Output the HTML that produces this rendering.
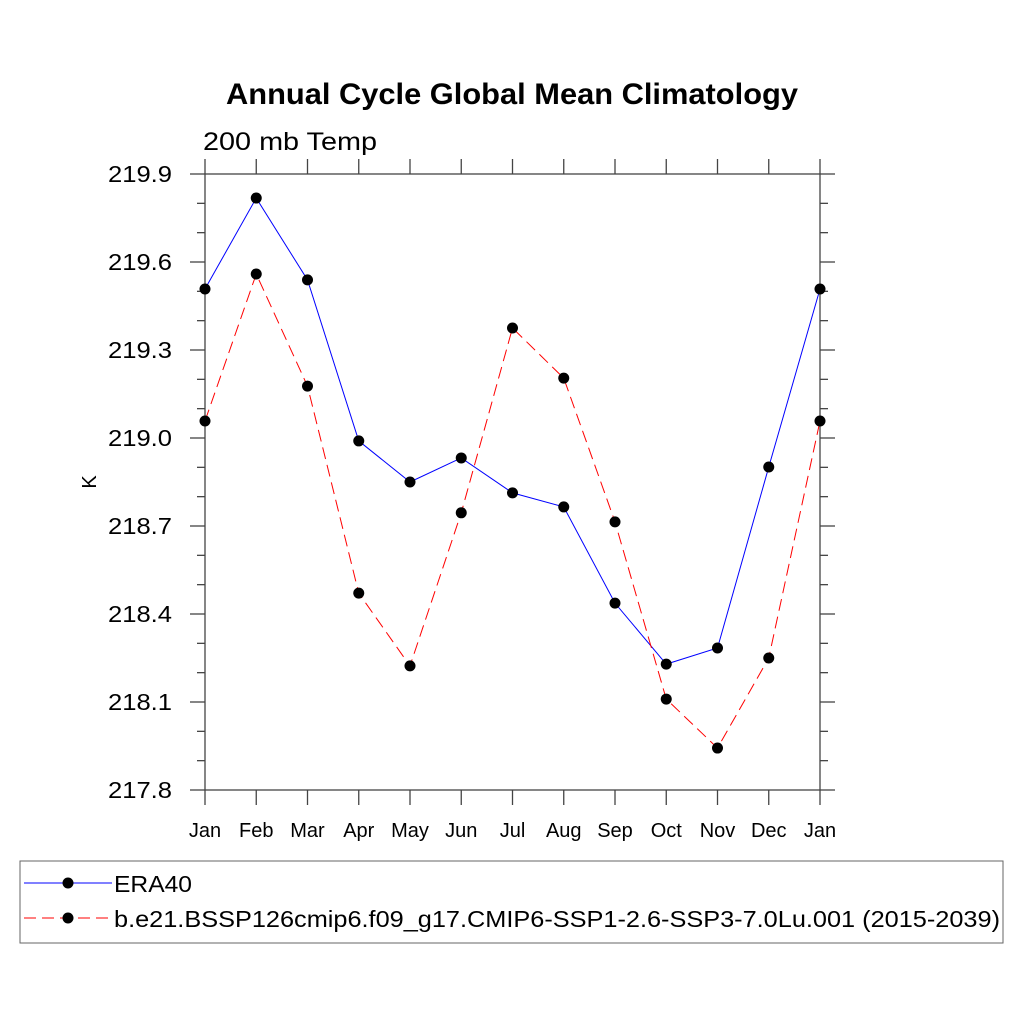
<!DOCTYPE html>
<html><head><meta charset="utf-8"><style>
body{margin:0;background:#fff}
svg text{font-family:"Liberation Sans",sans-serif}
</style></head><body>
<svg id="c" width="1024" height="1024" viewBox="0 0 1024 1024">
<text x="226" y="104" font-size="30" font-weight="bold" textLength="572" lengthAdjust="spacingAndGlyphs">Annual Cycle Global Mean Climatology</text>
<text x="203" y="150" font-size="25" textLength="174" lengthAdjust="spacingAndGlyphs">200 mb Temp</text>
<text x="0" y="0" font-size="20" transform="translate(96,482) rotate(-90)" text-anchor="middle">K</text>
<g id="axes"></g><g id="series"></g>
<rect x="20" y="861" width="983" height="82" fill="none" stroke="#666" stroke-width="1"/>
<g>
<line x1="24" y1="883" x2="112" y2="883" stroke="#00f" stroke-width="1"/>
<circle cx="68" cy="883" r="5.5" fill="#000"/>
<text x="114" y="892" font-size="23" textLength="78" lengthAdjust="spacingAndGlyphs">ERA40</text></g>
<g>
<line x1="24" y1="918" x2="112" y2="918" stroke="#f00" stroke-width="1" stroke-dasharray="12,6"/>
<circle cx="68" cy="918" r="5.5" fill="#000"/>
<text x="114" y="927" font-size="23" textLength="886" lengthAdjust="spacingAndGlyphs">b.e21.BSSP126cmip6.f09_g17.CMIP6-SSP1-2.6-SSP3-7.0Lu.001 (2015-2039)</text></g>
</svg>
<script>
const months=["Jan","Feb","Mar","Apr","May","Jun","Jul","Aug","Sep","Oct","Nov","Dec","Jan"];
const era40=[219.508,219.818,219.539,218.99,218.85,218.932,218.813,218.765,218.437,218.229,218.284,218.901,219.508];
const model=[219.058,219.559,219.177,218.471,218.223,218.745,219.375,219.204,218.714,218.11,217.943,218.25,219.058];
const yTicks=[217.8,218.1,218.4,218.7,219.0,219.3,219.6,219.9];
const NS="http://www.w3.org/2000/svg";
const L=205,R=820,T=174,B=790,ymin=217.8,ymax=219.9;
const X=i=>L+i*(R-L)/12, Y=v=>B-(v-ymin)/(ymax-ymin)*(B-T);
function mk(t,a,p){const e=document.createElementNS(NS,t);for(const k in a)e.setAttribute(k,a[k]);p.appendChild(e);return e;}
const ax=document.getElementById('axes'),se=document.getElementById('series');
const fr=mk('rect',{x:L,y:T,width:R-L,height:B-T,fill:'none',stroke:'#444','stroke-width':1.3},ax);


months.forEach((m,i)=>{const x=X(i);
 mk('line',{x1:x,y1:B,x2:x,y2:B+15,stroke:'#444','stroke-width':1.3},ax);
 mk('line',{x1:x,y1:T,x2:x,y2:T-15,stroke:'#444','stroke-width':1.3},ax);
 const t=mk('text',{x:x,y:837,'text-anchor':'middle','font-size':20},ax);t.textContent=m;
 
 });
for(let v=ymin;v<=ymax+1e-6;v+=0.1){const y=Y(v);const maj=Math.abs((v-ymin)/0.3-Math.round((v-ymin)/0.3))<1e-3;const len=maj?15:8;
 mk('line',{x1:L,y1:y,x2:L-len,y2:y,stroke:'#444','stroke-width':1.3},ax);
 mk('line',{x1:R,y1:y,x2:R+len,y2:y,stroke:'#444','stroke-width':1.3},ax);}
yTicks.forEach(v=>{const t=mk('text',{x:172,y:Y(v)+8,'text-anchor':'end','font-size':23,textLength:64,lengthAdjust:'spacingAndGlyphs'},ax);t.textContent=v.toFixed(1);
 
 });
function series(d,col,dash,name){const g=mk('g',{},se);
 
 
 mk('polyline',{points:d.map((v,i)=>X(i)+','+Y(v)).join(' '),fill:'none',stroke:col,'stroke-width':1,'stroke-dasharray':dash},g);
 d.forEach((v,i)=>mk('circle',{cx:X(i),cy:Y(v),r:5.5,fill:'#000'},g));}
series(era40,'#00f','none','era40-series');
series(model,'#f00','12,6','model-series');
</script>
</body></html>
